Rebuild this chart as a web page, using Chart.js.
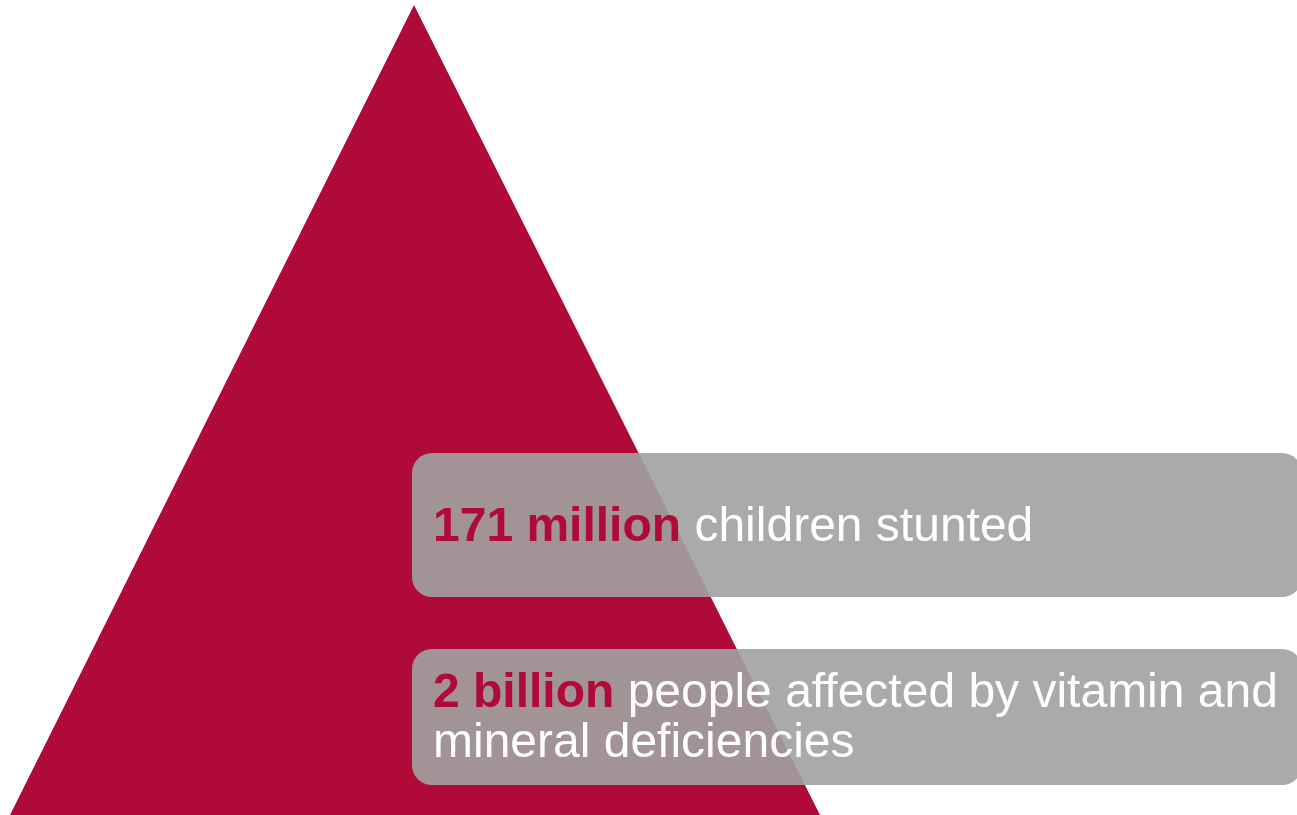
<!DOCTYPE html>
<html>
<head>
<meta charset="utf-8">
<script src="https://cdn.jsdelivr.net/npm/chart.js@4/dist/chart.umd.min.js"></script>
<style>
  html, body { margin: 0; padding: 0; background: #fff; }
  #wrap { width: 1297px; height: 815px; position: relative; }
</style>
</head>
<body>
<div id="wrap"><canvas id="chart"></canvas></div>
<script>
  // Triangle outline (x, y measured from bottom-left)
  const triangleX = [10, 414, 820];
  const triangleY = [0, 810, 0];

  // Grey label bands
  const bandLeft = [412, 412];
  const bandRight = [1302, 1302];
  const bandTop = [362, 166];
  const bandBottom = [218, 30];

  // Label text
  const boldParts = ['171 million', '2 billion'];
  const restLines = [
    ['children stunted'],
    ['people affected by vitamin and', 'mineral deficiencies']
  ];
  const textBaselines = [
    [274],
    [108, 58]
  ];
  const textX = 433;

  const RED = '#B00A38';
  const FONT = '"Liberation Sans", Arial, sans-serif';

  const bandsPlugin = {
    id: 'bands',
    afterDatasetsDraw(chart) {
      const ctx = chart.ctx;
      const xs = chart.scales.x;
      const ys = chart.scales.y;
      ctx.save();
      for (let i = 0; i < bandLeft.length; i++) {
        const x0 = xs.getPixelForValue(bandLeft[i]);
        const x1 = xs.getPixelForValue(bandRight[i]);
        const y0 = ys.getPixelForValue(bandTop[i]);
        const y1 = ys.getPixelForValue(bandBottom[i]);
        ctx.fillStyle = 'rgba(161,162,161,0.91)';
        ctx.beginPath();
        ctx.roundRect(x0, y0, x1 - x0, y1 - y0, 20);
        ctx.fill();

        // text
        ctx.textBaseline = 'alphabetic';
        ctx.textAlign = 'left';
        const tx = xs.getPixelForValue(textX);
        const lines = restLines[i];
        for (let j = 0; j < lines.length; j++) {
          const by = ys.getPixelForValue(textBaselines[i][j]);
          let cx = tx;
          if (j === 0) {
            ctx.font = 'bold 48px ' + FONT;
            ctx.fillStyle = RED;
            ctx.fillText(boldParts[i], cx, by);
            cx += ctx.measureText(boldParts[i] + ' ').width;
          }
          ctx.font = '48px ' + FONT;
          ctx.fillStyle = '#ffffff';
          ctx.fillText(lines[j], cx, by);
        }
      }
      ctx.restore();
    }
  };

  new Chart(document.getElementById('chart'), {
    type: 'scatter',
    data: {
      datasets: [{
        data: triangleX.map((x, i) => ({ x: x, y: triangleY[i] })),
        showLine: true,
        fill: true,
        backgroundColor: RED,
        borderColor: RED,
        borderWidth: 0,
        pointRadius: 0,
        tension: 0
      }]
    },
    options: {
      responsive: true,
      maintainAspectRatio: false,
      animation: false,
      layout: { padding: 0 },
      plugins: { legend: { display: false }, tooltip: { enabled: false } },
      scales: {
        x: { type: 'linear', min: 0, max: 1297, display: false },
        y: { type: 'linear', min: 0, max: 815, display: false }
      }
    },
    plugins: [bandsPlugin]
  });
</script>
</body>
</html>
